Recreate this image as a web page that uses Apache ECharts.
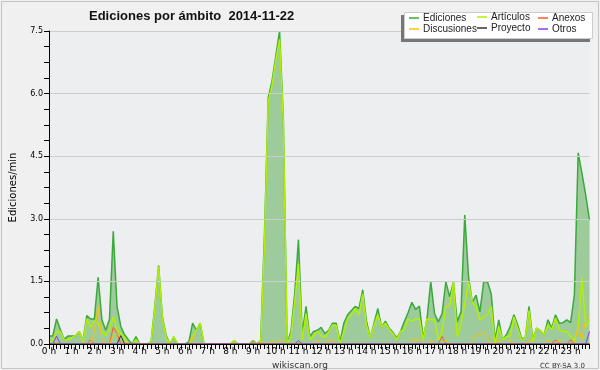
<!DOCTYPE html>
<html><head><meta charset="utf-8">
<script src="https://cdn.jsdelivr.net/npm/echarts@6/dist/echarts.min.js"></script>
<style>html,body{margin:0;padding:0;background:#f0f0f0;}#c{width:600px;height:370px;}</style>
</head><body><div id="c"></div>
<script>
// 10-minute slots across the day (144 points)
const hourLabels = ['0 h','1 h','2 h','3 h','4 h','5 h','6 h','7 h','8 h','9 h','10 h','11 h','12 h','13 h','14 h','15 h','16 h','17 h','18 h','19 h','20 h','21 h','22 h','23 h'];
const yTicks = [0, 1.5, 3.0, 4.5, 6.0, 7.5];

const ediciones = [
 0.19,0.19,0.6,0.35,0.11,0.19,
 0.19,0.19,0.3,0.08,0.68,0.6,
 0.6,1.6,0.58,0.33,0.6,2.7,
 0.9,0.42,0.22,0.1,0,0.18,
 0,0,0,0.05,0.9,1.88,
 0.65,0.2,0,0.17,0,0,
 0,0.05,0.5,0.33,0.5,0,
 0,0,0,0,0,0,
 0,0.08,0,0,0,0,
 0.08,0,0.08,2.6,5.9,6.3,
 6.9,7.5,5.4,0,0.3,1.2,
 2.5,0.25,0.9,0.18,0.3,0.33,
 0.4,0.25,0.33,0.5,0.5,0.05,
 0.5,0.7,0.8,0.9,0.85,1.3,
 0.55,0.15,0.5,0.85,0.4,0.55,
 0.38,0.28,0.14,0.3,0.54,0.75,
 1.0,0.83,0.91,0.14,0.6,1.5,
 0.73,0.53,0.73,1.49,1.13,1.49,
 0.53,0.77,3.09,1.6,1.0,1.17,
 0.77,1.49,1.49,1.2,0.1,0.58,
 0.1,0.22,0.42,0.7,0.46,0.14,
 0.14,0.9,0.1,0.38,0.32,0.22,
 0.58,0.38,0.7,0.5,0.51,0.58,
 0.51,1.17,4.58,4.09,3.57,2.97
];
const articulos = [
 0.05,0.1,0.3,0.3,0.1,0.1,
 0.15,0.2,0.3,0.05,0.6,0.4,
 0.55,0.5,0.3,0.2,0.35,0.65,
 0.35,0.25,0.15,0,0,0.1,
 0,0,0,0.05,0.85,1.85,
 0.6,0.15,0,0.17,0,0,
 0,0,0.17,0.33,0.5,0,
 0,0,0,0,0,0,
 0,0.08,0,0,0,0,
 0,0,0,2.4,5.8,6.2,
 6.8,7.3,5.3,0,0.2,1.0,
 1.93,0.1,0.73,0.1,0.2,0.3,
 0.2,0.15,0.3,0.45,0.45,0,
 0.3,0.6,0.7,0.85,0.7,1.2,
 0.45,0.15,0.45,0.7,0.4,0.5,
 0.35,0.25,0.1,0.3,0.35,0.59,
 0.55,0.6,0.6,0.1,0.6,0.58,
 0.58,0.1,0.3,0.9,0.9,1.49,
 0.18,0.46,0.97,1.49,1.0,0.9,
 0.58,0.65,0.7,0.9,0,0.42,
 0.1,0.18,0.18,0.65,0.38,0.1,
 0.14,0.8,0.05,0.38,0.32,0.22,
 0.46,0.34,0.62,0.34,0.3,0.3,
 0.18,0.1,0.38,1.6,0.42,0.58
];
const anexos = [
 0,0,0,0,0,0, 0,0,0,0,0,0.1, 0,0,0,0,0,0.4, 0.25,0,0,0,0,0,
 0,0,0,0,0,0, 0,0,0,0,0,0, 0,0,0,0,0,0, 0,0,0,0,0,0,
 0,0,0,0,0,0, 0,0,0,0,0,0, 0,0,0,0,0,0, 0,0,0,0,0,0,
 0,0,0,0,0,0, 0,0,0,0,0,0, 0,0,0,0,0,0, 0,0,0,0,0,0,
 0,0,0,0,0,0, 0,0,0.18,0,0,0, 0,0,0,0,0,0, 0,0,0,0,0,0,
 0,0,0,0,0,0, 0,0,0,0,0,0, 0,0,0.1,0,0,0, 0.1,0,0,0,0,0
];
const discusiones = [
 0,0,0,0,0,0, 0,0,0,0,0,0, 0.3,0.9,0.1,0,0,0.2, 0.25,0.15,0.05,0,0,0,
 0,0,0,0,0,0, 0,0,0,0,0,0, 0,0,0.2,0,0,0, 0,0,0,0,0,0,
 0,0,0,0,0,0, 0.08,0,0.08,0,0,0.08, 0,0.1,0.08,0,0,0, 0,0,0,0,0,0.1,
 0,0,0.1,0.1,0,0, 0,0,0,0,0,0, 0,0,0,0,0,0, 0,0,0,0,0,0,
 0.1,0.1,0.1,0,0,0.1, 0,0,0,0.1,0,0, 0,0,0,0,0.1,0.2, 0.2,0.3,0.15,0,0,0.1,
 0,0,0.1,0,0,0, 0,0.1,0,0,0,0, 0.1,0,0,0.1,0,0, 0,0,0.42,0.1,0.58,0.7
];
const proyecto = [
 0,0,0,0,0,0, 0,0,0,0,0,0, 0,0,0,0,0,0, 0,0.2,0,0,0,0,
 0,0,0,0,0,0, 0,0,0,0,0,0, 0,0,0,0,0,0, 0,0,0,0,0,0,
 0,0,0,0,0,0, 0,0,0,0,0,0, 0,0,0,0,0,0, 0,0,0,0,0,0,
 0,0,0,0,0,0, 0,0,0,0,0,0, 0,0,0,0,0,0, 0,0,0,0,0,0,
 0,0,0,0,0,0, 0,0,0,0,0,0, 0,0,0,0,0,0, 0,0,0,0,0,0,
 0,0,0,0,0,0, 0,0,0,0,0,0, 0,0,0,0,0,0, 0,0,0,0,0,0
];
const otros = [
 0,0,0.19,0,0,0, 0,0,0,0,0,0, 0,0,0,0,0,0, 0,0,0,0,0,0,
 0,0,0,0,0,0, 0,0,0,0,0,0, 0,0,0,0,0,0, 0,0,0,0,0,0,
 0,0,0,0,0,0, 0,0,0,0,0,0, 0,0,0,0,0,0, 0.08,0,0,0,0,0,
 0,0,0,0,0,0, 0,0,0,0,0,0, 0,0,0,0,0,0, 0,0,0,0,0,0,
 0,0,0,0,0,0, 0,0,0,0,0,0, 0,0,0,0,0,0, 0,0,0,0,0,0,
 0,0,0,0,0,0, 0,0,0,0,0,0, 0,0,0,0,0,0, 0,0,0,0,0,0.3
];

const slots = [];
for (let h = 0; h < 24; h++) for (let m = 0; m < 60; m += 10) slots.push(h + ':' + (m < 10 ? '0' : '') + m);

const FONT = 'DejaVu Sans';
const chart = echarts.init(document.getElementById('c'), null, {renderer: 'canvas'});

function lineSeries(name, data, color, width, extra) {
  return Object.assign({
    name, type: 'line', data, showSymbol: false, symbol: 'none', smooth: false,
    lineStyle: {color, width}, itemStyle: {color}, animation: false
  }, extra || {});
}

function leg(name, left, top) {
  return {
    data: [name], left, top, icon: 'rect', itemWidth: 10, itemHeight: 1.5, itemGap: 0, padding: 0,
    textStyle: {fontFamily: 'Liberation Sans', fontSize: 10, color: '#222', padding: [0, 0, 0, -1]},
    selectedMode: false
  };
}

chart.setOption({
  backgroundColor: '#f0f0f0',
  animation: false,
  textStyle: {fontFamily: FONT},
  title: [
    {text: 'Ediciones por ámbito  2014-11-22', left: 84, top: 5,
     textStyle: {fontFamily: 'Liberation Sans', fontWeight: 'bold', fontSize: 13, color: '#111'}},
    {text: 'wikiscan.org', left: 'center', top: 356,
     textStyle: {fontFamily: FONT, fontWeight: 'normal', fontSize: 9, color: '#333'}},
    {text: 'CC BY-SA 3.0', right: 10, top: 358,
     textStyle: {fontFamily: FONT, fontWeight: 'normal', fontSize: 7, color: '#333'}}
  ],
  graphic: [
    {type: 'rect', shape: {x: 1.5, y: 1.5, width: 597, height: 367}, style: {fill: 'none', stroke: '#c4c4c4', lineWidth: 1}, z: 0, silent: true},
    {type: 'rect', shape: {x: 401, y: 15, width: 189, height: 27}, style: {fill: '#777'}, z: 90, silent: true},
    {type: 'rect', shape: {x: 404.5, y: 12.5, width: 188, height: 26}, style: {fill: '#ffffff', stroke: '#cccccc', lineWidth: 1}, z: 91, silent: true}
  ],
  legend: [
    Object.assign(leg('Ediciones', 409, 13), {z: 100}),
    Object.assign(leg('Discusiones', 409, 24), {z: 100}),
    Object.assign(leg('Artículos', 477, 12), {z: 100}),
    Object.assign(leg('Proyecto', 477, 23), {z: 100}),
    Object.assign(leg('Anexos', 538, 13), {z: 100}),
    Object.assign(leg('Otros', 538, 24), {z: 100})
  ],
  grid: {left: 45, right: 10.5, top: 31, bottom: 26, show: true, backgroundColor: '#eceef0', borderWidth: 0},
  xAxis: {
    type: 'category', data: slots, boundaryGap: false, z: 10,
    axisLine: {show: true, lineStyle: {color: '#000', width: 1}},
    axisTick: {show: true, interval: 0, length: 5, lineStyle: {color: '#000'}},
    axisLabel: {interval: 5, fontFamily: FONT, fontSize: 9, color: '#000', margin: 3,
      formatter: (v, i) => hourLabels[Math.floor(i / 6)]},
    splitLine: {show: false}
  },
  yAxis: {
    type: 'value', min: yTicks[0], max: yTicks[yTicks.length - 1], interval: 1.5, z: 10,
    name: 'Ediciones/min', nameLocation: 'middle', nameGap: 31, nameRotate: 90,
    nameTextStyle: {fontFamily: FONT, fontSize: 10, color: '#000'},
    axisLine: {show: true, lineStyle: {color: '#000', width: 1}},
    axisTick: {show: true, length: 5, lineStyle: {color: '#000'}},
    minorTick: {show: true, splitNumber: 4, length: 5, lineStyle: {color: '#000'}},
    axisLabel: {fontFamily: FONT, fontSize: 8, color: '#000', margin: 6, formatter: v => v.toFixed(1)},
    splitLine: {show: true, lineStyle: {color: '#cccccc', width: 1}}
  },
  series: [
    lineSeries('Ediciones', ediciones, '#3aaa3a', 1.5, {areaStyle: {color: '#9dcb9b', opacity: 1}}),
    lineSeries('Artículos', articulos, '#b2f000', 1.5),
    lineSeries('Anexos', anexos, '#ff5a1e', 1),
    lineSeries('Discusiones', discusiones, '#ffc000', 1),
    lineSeries('Proyecto', proyecto, '#333333', 1),
    lineSeries('Otros', otros, '#8a3cf0', 1)
  ]
});
</script></body></html>
